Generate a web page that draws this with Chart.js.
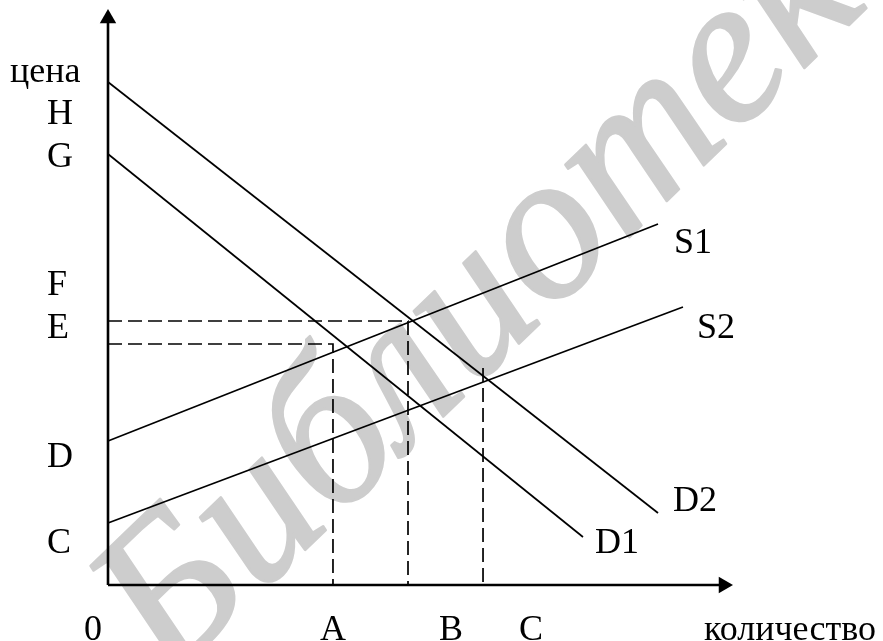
<!DOCTYPE html>
<html>
<head>
<meta charset="utf-8">
<script src="https://cdn.jsdelivr.net/npm/chart.js@4"></script>
<style>
  html, body { margin: 0; padding: 0; background: #fff; }
  #wrap { width: 883px; height: 641px; }
</style>
</head>
<body>
<div id="wrap"><canvas id="supplyDemand"></canvas></div>
<script>
// lines of the diagram (price vs quantity, arbitrary units)
var curveD2 = [{x: 0, y: 85.98}, {x: 70.97, y: 12.31}];
var curveD1 = [{x: 0, y: 73.68}, {x: 61.29, y: 8.21}];
var curveS1 = [{x: 0, y: 24.62}, {x: 70.97, y: 61.71}];
var curveS2 = [{x: 0, y: 10.60}, {x: 74.19, y: 47.52}];

// dashed guides to the axes
var guideE = [{x: 0, y: 45.13}, {x: 38.71, y: 45.13}, {x: 38.71, y: 0}];
var guideA = [{x: 0, y: 41.20}, {x: 29.03, y: 41.20}, {x: 29.03, y: 0}];
var guideC = [{x: 48.39, y: 37.09}, {x: 48.39, y: 0}];

// axes with arrow ends
var axisY = [{x: 0, y: 0}, {x: 0, y: 96.84}];
var axisX = [{x: 0, y: 0}, {x: 79.42, y: 0}];

// tick labels
var yTickLabels = ['H', 'G', 'F', 'E', 'D', 'C'];
var yTickValues = [78.8, 71.45, 49.57, 42.22, 20.17, 5.47];
var xTickLabels = ['0', 'A', 'B', 'C'];
var xTickValues = [-1.94, 29.03, 44.26, 54.58];
var yTitle = 'цена';
var xTitle = 'количество';

// curve names and where they sit
var curveNames = ['D2', 'D1', 'S1', 'S2'];
var curveNameX = [72.9, 62.84, 73.03, 76.0];
var curveNameY = [12.65, 5.47, 56.75, 42.22];

var watermark = 'Библиотека';

var labelPlugin = {
    id: 'diagramLabels',
    beforeDatasetsDraw: function (chart) {
        var ctx = chart.ctx;
        var sx = chart.scales.x, sy = chart.scales.y;
        ctx.save();
        // fit the word so that "б" and "е" land where they are in the scan
        ctx.font = 'italic 100px "Liberation Serif"';
        var mw = function (s) { return ctx.measureText(s).width; };
        var cB = mw('Би') + mw('б') / 2;
        var cE = mw('Библиот') + mw('е') / 2;
        var size = 100 * 548 / (cE - cB);
        var k = size / 100;
        var mid = (cB + cE) / 2 * k;
        ctx.translate(sx.getPixelForValue(55.2), sy.getPixelForValue(55.56));
        ctx.rotate(-44 * Math.PI / 180);
        ctx.font = 'italic ' + size.toFixed(1) + 'px "Liberation Serif"';
        ctx.fillStyle = '#cdcdcd';
        ctx.strokeStyle = '#cdcdcd';
        ctx.lineWidth = 2.5;
        ctx.lineJoin = 'round';
        ctx.textAlign = 'left';
        ctx.textBaseline = 'alphabetic';
        ctx.fillText(watermark, -mid, size * 0.23);
        ctx.strokeText(watermark, -mid, size * 0.23);
        ctx.restore();
    },
    afterDatasetsDraw: function (chart) {
        var ctx = chart.ctx;
        var sx = chart.scales.x, sy = chart.scales.y;
        var x0 = sx.getPixelForValue(0);
        ctx.save();
        ctx.fillStyle = '#000';
        ctx.font = '36px "Liberation Serif"';
        ctx.textBaseline = 'alphabetic';

        ctx.textAlign = 'left';
        ctx.fillText(yTitle, x0 - 98, sy.getPixelForValue(86.0));
        yTickLabels.forEach(function (t, i) {
            ctx.fillText(t, x0 - 61, sy.getPixelForValue(yTickValues[i]));
        });

        var base = sy.getPixelForValue(0) + 55;
        ctx.textAlign = 'center';
        xTickLabels.forEach(function (t, i) {
            ctx.fillText(t, sx.getPixelForValue(xTickValues[i]), base);
        });
        ctx.fillText(xTitle, sx.getPixelForValue(88.0), base);

        ctx.textAlign = 'left';
        curveNames.forEach(function (t, i) {
            ctx.fillText(t, sx.getPixelForValue(curveNameX[i]), sy.getPixelForValue(curveNameY[i]));
        });
        ctx.restore();
    }
};

function solid(data) {
    return {data: data, showLine: true, borderColor: '#000', borderWidth: 1.7, pointRadius: 0, clip: false};
}
function dashed(data) {
    return {data: data, showLine: true, borderColor: '#000', borderWidth: 1.7, borderDash: [14, 6], pointRadius: 0, clip: false};
}
function axis(data, rot) {
    return {
        data: data, showLine: true, borderColor: '#000', borderWidth: 2.6, clip: false,
        backgroundColor: '#000', pointStyle: 'triangle', rotation: rot,
        pointRadius: function (c) { return c.dataIndex === 1 ? 9.5 : 0; },
        pointBorderWidth: 0
    };
}

document.addEventListener('DOMContentLoaded', function () {
    var ctx = document.getElementById('supplyDemand').getContext('2d');
    new Chart(ctx, {
        type: 'scatter',
        data: {
            datasets: [
                axis(axisY, 0),
                axis(axisX, 90),
                solid(curveD2),
                solid(curveD1),
                solid(curveS1),
                solid(curveS2),
                dashed(guideE),
                dashed(guideA),
                dashed(guideC)
            ]
        },
        options: {
            responsive: true,
            maintainAspectRatio: false,
            animation: false,
            layout: {autoPadding: false, padding: {left: 108, bottom: 56, top: 0, right: 0}},
            plugins: {legend: {display: false}, tooltip: {enabled: false}},
            scales: {
                x: {type: 'linear', min: 0, max: 100, display: false},
                y: {type: 'linear', min: 0, max: 100, display: false}
            }
        },
        plugins: [labelPlugin]
    });
});
</script>
</body>
</html>
